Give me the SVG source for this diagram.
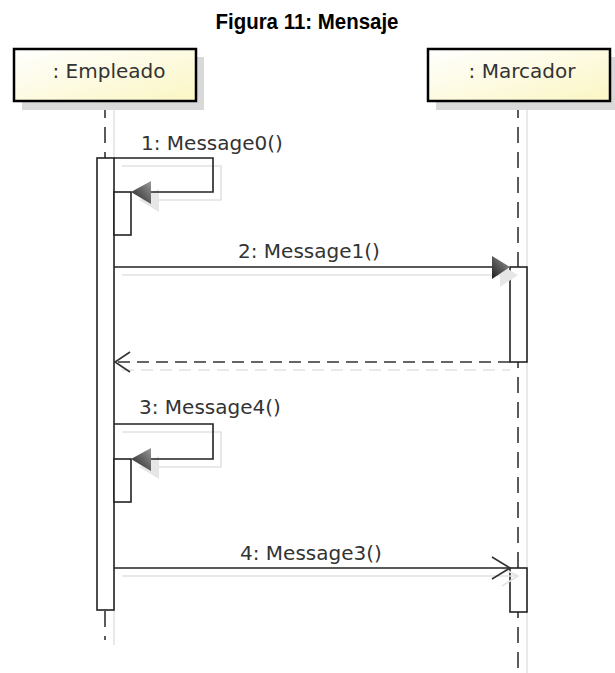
<svg xmlns="http://www.w3.org/2000/svg" width="615" height="673" viewBox="0 0 615 673">
  <style>
    .title { font-family: "Liberation Sans Narrow", "Liberation Sans", Arial, sans-serif; font-weight: bold; font-size: 22px; fill: #000; }
    .name { font-family: "DejaVu Sans", "Noto Sans", sans-serif; font-size: 20px; fill: #333; }
    .lbl { font-family: "DejaVu Sans", "Noto Sans", sans-serif; font-size: 20px; fill: #333; }
    .box { fill: url(#boxFill); stroke: #000; stroke-width: 2.5; }
    .boxShadow { fill: #d9d9d9; }
    .life { stroke: #333; stroke-width: 1.6; stroke-dasharray: 16 9; fill: none; }
    .lifeShadow { stroke: #e4e4e4; stroke-width: 1.6; fill: none; }
    .act { fill: #fff; stroke: #222; stroke-width: 1.6; }
    .msg { stroke: #222; stroke-width: 1.6; fill: none; }
    .ret { stroke: #333; stroke-width: 1.6; stroke-dasharray: 12 7; fill: none; }
    .shadow { stroke: #e2e2e2; stroke-width: 1.6; fill: none; }
    .head { fill: url(#headFill); stroke: none; }
    .headShadow { fill: #e6e6e6; stroke: none; }
    .open { stroke: #333; stroke-width: 1.6; fill: none; }
    .openShadow { stroke: #e4e4e4; stroke-width: 1.6; fill: none; }
  </style>
  <defs>
    <linearGradient id="boxFill" x1="0" y1="0" x2="1" y2="1">
      <stop offset="0" stop-color="#ffffff"/>
      <stop offset="1" stop-color="#fbf6c4"/>
    </linearGradient>
    <linearGradient id="headFill" x1="1" y1="0" x2="0" y2="1">
      <stop offset="0" stop-color="#9a9a9a"/>
      <stop offset="1" stop-color="#1e1e1e"/>
    </linearGradient>
  </defs>

  <rect width="615" height="673" fill="#fff"/>

  <text class="title" x="307" y="29" text-anchor="middle" textLength="183" lengthAdjust="spacingAndGlyphs">Figura 11: Mensaje</text>

  <!-- lifelines with their soft shadows -->
  <g id="lifelines">
    <line class="lifeShadow" x1="114" y1="110" x2="114" y2="645"/>
    <line class="life" x1="105" y1="102" x2="105" y2="158"/>
    <line class="life" x1="105" y1="611" x2="105" y2="640" stroke-dasharray="12 9 5 9"/>
    <line class="lifeShadow" x1="527" y1="110" x2="527" y2="673"/>
    <line class="life" x1="518" y1="102" x2="518" y2="673"/>
  </g>

  <g id="empleado">
    <rect class="boxShadow" x="22" y="57" width="182" height="53"/>
    <rect class="box" x="14" y="49" width="182" height="52"/>
    <text class="name" x="109" y="78" text-anchor="middle">: Empleado</text>
  </g>

  <g id="marcador">
    <rect class="boxShadow" x="436" y="57" width="182" height="53"/>
    <rect class="box" x="428" y="49" width="182" height="52"/>
    <text class="name" x="522" y="78" text-anchor="middle">: Marcador</text>
  </g>

  <!-- activation bars -->
  <g id="act-empleado">
    <rect class="act" x="97" y="158" width="17" height="452"/>
  </g>
  <g id="act-empleado-self1">
    <rect class="act" x="114" y="192" width="17" height="43"/>
  </g>
  <g id="act-empleado-self2">
    <rect class="act" x="114" y="459" width="17" height="43"/>
  </g>
  <g id="act-marcador-1">
    <rect class="act" x="510" y="267" width="17" height="95"/>
  </g>
  <g id="act-marcador-2">
    <rect class="act" x="510" y="568" width="17" height="44"/>
  </g>

  <g id="connectors">
    <!-- 1: Message0() self call -->
    <polyline class="shadow" points="122,166 221,166 221,200 151,200"/>
    <polygon class="headShadow" points="139,200 159,189 159,212"/>
    <polyline class="msg" points="114,158 213,158 213,192 150,192"/>
    <polygon class="head" points="131,192 151,181 151,204"/>
    <text class="lbl" x="141" y="150">1: Message0()</text>

    <!-- 2: Message1() -->
    <line class="shadow" x1="122" y1="275" x2="500" y2="275"/>
    <polygon class="headShadow" points="518,275 500,264 500,287"/>
    <line class="msg" x1="114" y1="267" x2="492" y2="267"/>
    <polygon class="head" points="510,267 492,256 492,279"/>
    <text class="lbl" x="238" y="258">2: Message1()</text>

    <!-- return -->
    <line class="shadow" x1="122" y1="370" x2="510" y2="370" stroke-dasharray="12 7"/>
    <line class="ret" x1="510" y1="362" x2="115" y2="362"/>
    <polyline class="open" points="130,352 115,362 130,372"/>

    <!-- 3: Message4() self call -->
    <polyline class="shadow" points="122,432 221,432 221,467 151,467"/>
    <polygon class="headShadow" points="139,467 159,456 159,479"/>
    <polyline class="msg" points="114,424 213,424 213,459 150,459"/>
    <polygon class="head" points="131,459 151,448 151,471"/>
    <text class="lbl" x="139" y="414">3: Message4()</text>

    <!-- 4: Message3() -->
    <line class="shadow" x1="122" y1="576" x2="516" y2="576"/>
    <polyline class="openShadow" points="502,568 518,576 502,586"/>
    <line class="msg" x1="114" y1="568" x2="510" y2="568"/>
    <polyline class="open" points="492,557 510,568 492,579"/>
    <text class="lbl" x="240" y="560">4: Message3()</text>
  </g>
</svg>
